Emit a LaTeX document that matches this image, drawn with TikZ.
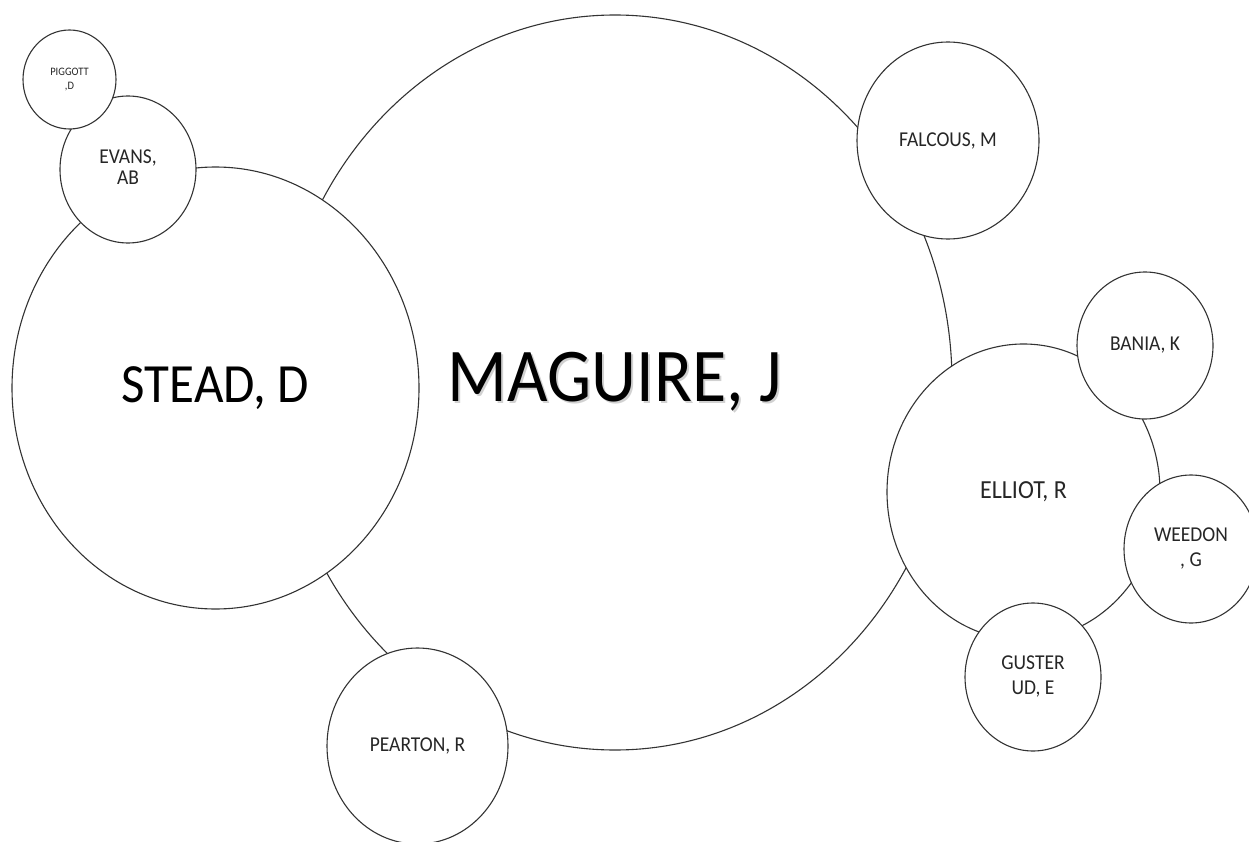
\documentclass[tikz,border=0pt]{standalone}
\usepackage{fontspec}
\setmainfont{Carlito}
\usetikzlibrary{shapes.geometric}
\newcommand{\vsq}[1]{\scalebox{1}[1.085]{#1}}
\newcommand{\twoline}[2]{\vsq{\begin{tabular}{@{}c@{}}#1\\#2\end{tabular}}}
\tikzset{
  bub/.style={ellipse, draw=black!80, line width=1.1pt, fill=white, inner sep=0pt, align=center, text=black!85},
  small/.style={font=\fontsize{19.5}{23}\selectfont},
}
\begin{document}
\begin{tikzpicture}[x=1pt,y=-1pt]
\useasboundingbox (0,0) rectangle (1249,842);
\clip (0,0) rectangle (1249,842);
\node[bub, text=black, minimum width=674, minimum height=735, font=\fontsize{70}{80}\selectfont] (maguire) at (615,382.5)
  {\vsq{\makebox[0pt][l]{\raisebox{-2pt}{\hspace{2pt}\textcolor{black!18}{MAGUIRE, J}}}MAGUIRE, J}};
\node[bub, text=black, minimum width=407, minimum height=442, font=\fontsize{51}{60}\selectfont] (stead) at (215.5,388) {\vsq{STEAD, D}};
\node[bub, minimum width=136, minimum height=147, font=\fontsize{19.5}{19.4}\selectfont] (evans) at (128,169.5) {\twoline{EVANS,}{AB}};
\node[bub, minimum width=93, minimum height=99, font=\fontsize{10.5}{13.8}\selectfont] (piggott) at (69.5,79.5) {\twoline{PIGGOTT}{,D}};
\node[bub, small, minimum width=182, minimum height=197] (falcous) at (948,140.5) {\vsq{FALCOUS, M}};
\node[bub, minimum width=273, minimum height=296, font=\fontsize{24}{28}\selectfont] (elliot) at (1023.5,492) {\vsq{ELLIOT, R}};
\node[bub, small, minimum width=136, minimum height=147] (bania) at (1145,345.5) {\vsq{BANIA, K}};
\node[bub, small, minimum width=134, minimum height=148] (weedon) at (1191,549) {\twoline{WEEDON}{, G}};
\node[bub, small, minimum width=136, minimum height=148] (gusterud) at (1033,677) {\twoline{GUSTER}{UD, E}};
\node[bub, small, minimum width=181, minimum height=196] (pearton) at (417.5,746) {\vsq{PEARTON, R}};
\end{tikzpicture}
\end{document}
